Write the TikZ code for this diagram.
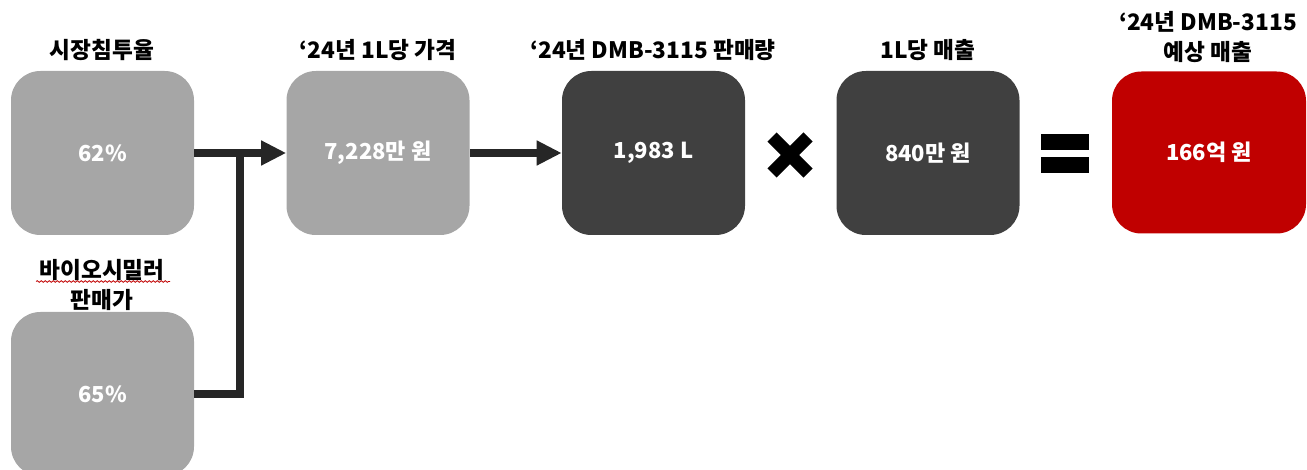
\documentclass[tikz,border=0pt]{standalone}
\usepackage{fontspec}
\newfontfamily\kr{Noto Sans CJK KR}
\usetikzlibrary{arrows.meta,decorations.pathmorphing}
\definecolor{lgray}{HTML}{A6A6A6}
\definecolor{dgray}{HTML}{404040}
\definecolor{kred}{HTML}{C00000}
\definecolor{line}{HTML}{262626}
\begin{document}
\begin{tikzpicture}[x=0.75pt,y=-0.75pt,
  box/.style={rounded corners=22pt, minimum width=137.25pt, minimum height=123pt,
    inner sep=0pt, text=white, font=\kr\bfseries\fontsize{16.5}{20}\selectfont},
  lbl/.style={font=\kr\bfseries\fontsize{17}{22.5}\selectfont, align=center, text=black, inner sep=0pt},
  conn/.style={draw=line, line width=6pt},
  tip/.style={-{Triangle[length=18.75pt,width=17.5pt]}}]
\useasboundingbox (0,0) rectangle (1307,470);
% boxes
\node[box, fill=lgray] (b1) at (102.5,153) {62\%};
\node[box, fill=lgray] (b2) at (378,153) {7,228만 원};
\node[box, fill=dgray] (b3) at (653.5,153) {1,983 L};
\node[box, fill=dgray] (b4) at (928,153) {840만 원};
\node[box, fill=kred, minimum width=145.5pt, minimum height=121.5pt] (b5) at (1209,152.5) {166억 원};
\node[box, fill=lgray] (b6) at (102.5,394) {65\%};
% labels
\node[lbl] (l1) at (102,50) {시장침투율};
\node[lbl] (l2) at (378,50) {‘24년 1L당 가격};
\node[lbl] (l3) at (653,50) {‘24년 DMB-3115 판매량};
\node[lbl] (l4) at (928,50) {1L당 매출};
\node[lbl] (l5) at (1208,37) {‘24년 DMB-3115\\예상 매출};
\node[lbl] (l6) at (102,285) {바이오시밀러\\판매가};
\draw[kred, line width=0.6pt, decorate, decoration={snake, amplitude=0.6pt, segment length=3pt}] (36,281.5) -- (170,281.5);
% connectors
\coordinate (jn) at (240,153);
\draw[conn, tip] (b1.east) -- (b2.west);
\draw[conn] (b6.east) -| (jn);
\draw[conn, tip] (b2.east) -- (b3.west);
% operators
\draw[line width=9.75pt, black] (772,137) -- (808,173);
\draw[line width=9.75pt, black] (808,137) -- (772,173);
\fill[black] (1041,134.5) rectangle (1089,150.5);
\fill[black] (1041,157.5) rectangle (1089,173.5);
\end{tikzpicture}
\end{document}
